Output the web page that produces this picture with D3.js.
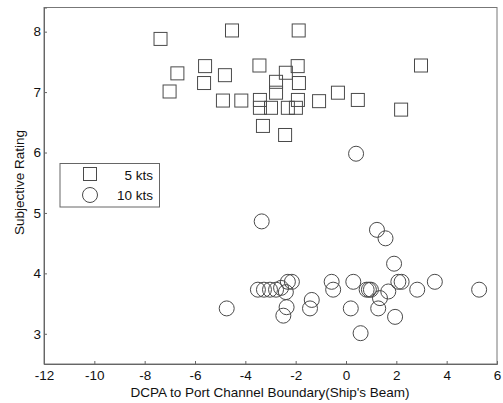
<!DOCTYPE html>
<html>
<head>
<meta charset="utf-8">
<script src="https://cdn.jsdelivr.net/npm/d3@7"></script>
<style>
  body { margin: 0; background: #fff; }
  svg text { font-family: "Liberation Sans", Arial, sans-serif; fill: #111; }
</style>
</head>
<body>
<svg id="chart" width="503" height="403"></svg>
<script>
// 5 kts runs (squares)
var kts5X = [-7.37, -4.53, -6.70, -7.01, -5.60, -5.64, -4.81, -4.89, -4.16, -1.88,
             -3.44, -1.92, -2.39, -2.78, -1.87, -2.78, -1.91, -3.42, -3.42, -2.98,
             -2.31, -1.99, -1.07, -0.32, 0.47, 2.98, 2.19, -3.30, -2.42];
var kts5Y = [7.88, 8.02, 7.31, 7.01, 7.43, 7.15, 7.28, 6.86, 6.86, 8.02,
             7.44, 7.43, 7.32, 7.17, 7.15, 6.99, 6.87, 6.87, 6.74, 6.74,
             6.74, 6.74, 6.85, 6.99, 6.87, 7.44, 6.71, 6.44, 6.29];

// 10 kts runs (circles)
var kts10X = [-4.74, -3.35, 1.23, 1.57, 1.91, -3.50, -3.26, -3.02, -2.78, -2.58,
              -2.31, -2.15, -2.39, -2.36, -2.49, -1.36, -1.43, -0.57, -0.51, 0.29,
              0.82, 0.91, 0.99, 1.35, 1.68, 2.08, 2.21, 2.83, 3.53, 5.29,
              0.19, 1.28, 1.95, 0.58, 0.40];
var kts10Y = [3.42, 4.86, 4.72, 4.58, 4.16, 3.73, 3.73, 3.73, 3.73, 3.76,
              3.86, 3.86, 3.69, 3.44, 3.30, 3.56, 3.42, 3.86, 3.73, 3.86,
              3.73, 3.73, 3.73, 3.59, 3.70, 3.86, 3.86, 3.73, 3.86, 3.73,
              3.42, 3.42, 3.28, 3.01, 5.98];

var xTicks = [-12, -10, -8, -6, -4, -2, 0, 2, 4, 6];
var yTicks = [3, 4, 5, 6, 7, 8];
var legendLabels = ["5 kts", "10 kts"];

var svg = d3.select("#chart");
var plotLeft = 44, plotRight = 497, plotTop = 7.5, plotBottom = 364;
var fontSize = 13.5;
var markColor = "#4a4a4a";

var x = d3.scaleLinear().domain([-12, 6]).range([plotLeft, plotRight]);
var y = d3.scaleLinear().domain([2.5, 8.4]).range([plotBottom, plotTop]);

// Box
svg.append("rect")
  .attr("x", plotLeft)
  .attr("y", plotTop)
  .attr("width", plotRight - plotLeft)
  .attr("height", plotBottom - plotTop)
  .attr("fill", "none")
  .attr("stroke", "#777")
  .attr("stroke-width", 1);

// Axes, ticks pointing inward, plain hyphen minus
var fmt = function(d) { return String(d); };
var xAxis = svg.append("g")
  .attr("transform", "translate(0," + plotBottom + ")")
  .call(d3.axisBottom(x).tickValues(xTicks).tickFormat(fmt).tickSize(-3).tickPadding(6));
var yAxis = svg.append("g")
  .attr("transform", "translate(" + plotLeft + ",0)")
  .call(d3.axisLeft(y).tickValues(yTicks).tickFormat(fmt).tickSize(-3).tickPadding(3));

[xAxis, yAxis].forEach(function(g) {
  g.select(".domain").attr("stroke", "#666");
  g.selectAll(".tick line").attr("stroke", "#666");
  g.selectAll(".tick text")
    .attr("font-size", fontSize)
    .attr("font-family", "Liberation Sans, Arial, sans-serif")
    .attr("fill", "#111");
});

// Axis titles
svg.append("text")
  .attr("x", (plotLeft + plotRight) / 2 - 0.5)
  .attr("y", 397)
  .attr("text-anchor", "middle")
  .attr("font-size", fontSize)
  .text("DCPA to Port Channel Boundary(Ship's Beam)");

svg.append("text")
  .attr("transform", "translate(24,182.5) rotate(-90)")
  .attr("text-anchor", "middle")
  .attr("font-size", fontSize)
  .text("Subjective Rating");

// Squares (5 kts)
var side = 13;
svg.append("g").selectAll("rect")
  .data(d3.range(kts5X.length))
  .join("rect")
  .attr("x", function(i) { return x(kts5X[i]) - side / 2; })
  .attr("y", function(i) { return y(kts5Y[i]) - side / 2; })
  .attr("width", side)
  .attr("height", side)
  .attr("fill", "none")
  .attr("stroke", markColor)
  .attr("stroke-width", 1);

// Circles (10 kts)
var radius = 7.5;
svg.append("g").selectAll("circle")
  .data(d3.range(kts10X.length))
  .join("circle")
  .attr("cx", function(i) { return x(kts10X[i]); })
  .attr("cy", function(i) { return y(kts10Y[i]); })
  .attr("r", radius)
  .attr("fill", "none")
  .attr("stroke", markColor)
  .attr("stroke-width", 1);

// Legend
var legend = svg.append("g");
legend.append("rect")
  .attr("x", 60)
  .attr("y", 163.5)
  .attr("width", 99.5)
  .attr("height", 43.5)
  .attr("fill", "#fff")
  .attr("stroke", "#666")
  .attr("stroke-width", 1);

legend.append("rect")
  .attr("x", 90 - side / 2)
  .attr("y", 174 - side / 2)
  .attr("width", side)
  .attr("height", side)
  .attr("fill", "none")
  .attr("stroke", markColor);

legend.append("circle")
  .attr("cx", 90)
  .attr("cy", 195)
  .attr("r", radius)
  .attr("fill", "none")
  .attr("stroke", markColor);

legend.selectAll("text.lab")
  .data(legendLabels)
  .join("text")
  .attr("class", "lab")
  .attr("x", 153)
  .attr("y", function(d, i) { return 179.5 + i * 20.5; })
  .attr("text-anchor", "end")
  .attr("font-size", fontSize)
  .text(function(d) { return d; });
</script>
</body>
</html>
